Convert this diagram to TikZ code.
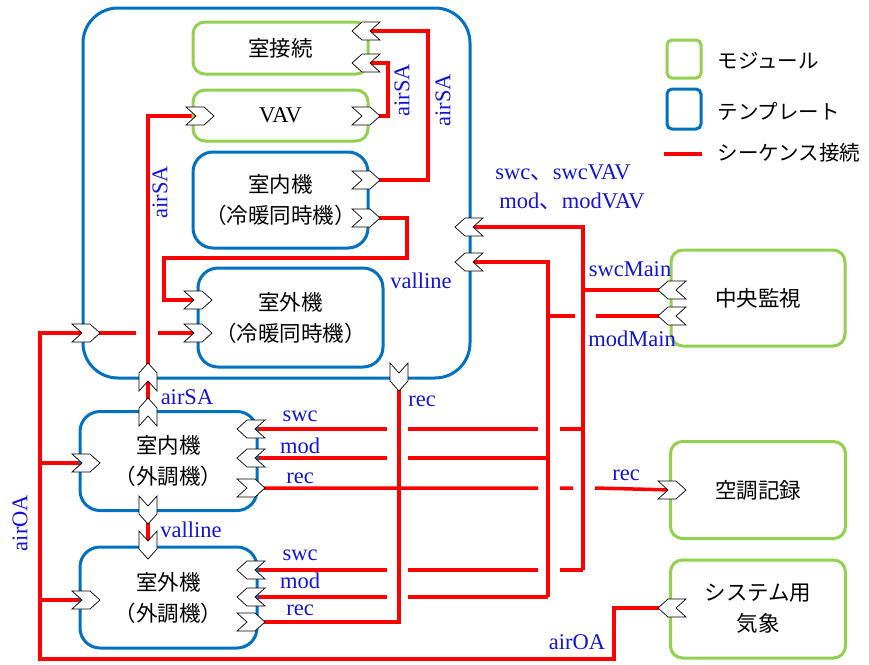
\documentclass[tikz,border=0pt]{standalone}
\usepackage{fontspec}
\setmainfont{Liberation Serif}
\newfontfamily\jp{Noto Sans CJK JP}
\usetikzlibrary{shapes.symbols}
\usetikzlibrary{backgrounds}
\definecolor{modgreen}{RGB}{146,208,80}
\definecolor{tplblue}{RGB}{0,112,192}
\definecolor{lblblue}{RGB}{20,20,215}
\tikzset{   module/.style = {rectangle, rounded corners=12pt, draw = modgreen, line width=3pt, align=center, inner sep=0pt, font=\jp\fontsize{21.5}{31}\selectfont},
            template/.style = {rectangle, rounded corners=20pt, draw = tplblue, line width=3pt, align=center, inner sep=0pt, font=\jp\fontsize{21.5}{31}\selectfont}}
\tikzset{   port/.style = {signal, draw = black, fill = white, line width=0.7pt, inner sep=0pt, signal pointer angle=84, minimum width=28pt, minimum height=18pt},
            portE/.style = {port, signal to=east, signal from=west},
            portW/.style = {port, signal to=west, signal from=east},
            portN/.style = {portE, rotate=90},
            portS/.style = {portE, rotate=-90}}
\tikzset{seq/.style = {draw = red, line width=3.5pt}}
\tikzset{lbl/.style = {text = lblblue, inner sep=0pt, font=\fontsize{22.5}{24}\selectfont}}

\begin{document}
\begin{tikzpicture}[x=1pt, y=-1pt]
\useasboundingbox (0,0) rectangle (869,664);

% templates and modules
\node[template, rounded corners=35pt, minimum width=387pt, minimum height=370pt] (tpl) at (276.5,193) {};
\node[module, minimum width=175pt, minimum height=52pt] (roomlink) at (280.5,48) {室接続};
\node[module, minimum width=175pt, minimum height=51pt, font=\fontsize{22.5}{24}\selectfont] (vav) at (280.5,115.5) {VAV};
\node[template, minimum width=175pt, minimum height=96pt] (inunit) at (280.5,200) {室内機\\（冷暖同時機）};
\node[template, minimum width=185pt, minimum height=99pt] (outunit) at (290.5,317.5) {室外機\\（冷暖同時機）};
\node[template, minimum width=177pt, minimum height=99pt] (oainunit) at (168.5,461) {室内機\\（外調機）};
\node[template, minimum width=177pt, minimum height=101pt] (oaoutunit) at (168.5,597.5) {室外機\\（外調機）};
\node[module, minimum width=174pt, minimum height=96pt] (central) at (758,298) {中央監視};
\node[module, minimum width=175pt, minimum height=97pt] (record) at (758,490) {空調記録};
\node[module, minimum width=175pt, minimum height=98pt] (weather) at (758,609) {システム用\\気象};

% legend
\node[module, rounded corners=5pt, minimum width=34pt, minimum height=38pt] (legmod) at (684,59) {};
\node[template, rounded corners=5pt, minimum width=34pt, minimum height=40pt] (legtpl) at (684,109) {};
\coordinate (legseqA) at (664,154);
\coordinate (legseqB) at (702,154);
\draw[seq] (legseqA) -- (legseqB);
\node[anchor=west, font=\jp\fontsize{20.5}{24}\selectfont] (legmodtxt) at (714,61) {モジュール};
\node[anchor=west, font=\jp\fontsize{20.5}{24}\selectfont] (legtpltxt) at (714,111) {テンプレート};
\node[anchor=west, font=\jp\fontsize{20.5}{24}\selectfont] (legseqtxt) at (714,153) {シーケンス接続};

% ports
\node[portW] (rlA) at (366,31) {};
\node[portW] (rlB) at (366,63) {};
\node[portE] (vavin) at (200,116) {};
\node[portE] (vavout) at (366,116) {};
\node[portE] (inA) at (366,180) {};
\node[portE] (inB) at (366,218) {};
\node[portE] (outA) at (198,300) {};
\node[portE] (outB) at (198,333) {};
\node[portE] (tOA) at (86,333) {};
\node[portN] (tSA) at (148,377) {};
\node[portS] (tRec) at (399,377) {};
\node[portW] (tSwc) at (469,227) {};
\node[portW] (tMod) at (469,262) {};
\node[portN] (gSA) at (148,412) {};
\node[portE] (gOA) at (86,463) {};
\node[portW] (gSwc) at (251,429) {};
\node[portW] (gMod) at (251,458) {};
\node[portE] (gRec) at (251,488) {};
\node[portS] (gVal) at (148,510) {};
\node[portS] (hVal) at (148,545) {};
\node[portE] (hOA) at (86,600) {};
\node[portW] (hSwc) at (251,570) {};
\node[portW] (hMod) at (251,597) {};
\node[portE] (hRec) at (251,622) {};
\node[portW] (cSwc) at (672,290) {};
\node[portW] (cMod) at (672,316) {};
\node[portE] (rRec) at (672,490) {};
\node[portW] (wOA) at (672,608) {};

\coordinate (swcX) at (583,0);
\coordinate (modX) at (548,0);
\coordinate (oaCorner) at (40,659);
\coordinate (valBend) at (164,258);

% sequence connections
\begin{scope}[on background layer]
\draw[seq] (inA.center) -- ++(62,0) |- (rlA.center);
\draw[seq] (vavout.center) -- ++(22,0) |- (rlB.center);
\draw[seq] (tSA.center) |- (vavin.center);
\draw[seq] (inB.center) -- ++(41,0) |- (valBend) |- (outA.center);
\draw[seq] (tOA.center) -- ([xshift=-12pt]tSA |- tOA) ([xshift=10pt]tSA |- tOA) -- (outB.center);
\draw[seq] (gSA.center) -- (tSA.center);
\draw[seq] (gVal.center) -- (hVal.center);
\draw[seq] (wOA.center) -- ++(-58,0) |- (oaCorner) |- (tOA.center);
\draw[seq] (gOA.center) -- (gOA -| oaCorner);
\draw[seq] (hOA.center) -- (hOA -| oaCorner);
\draw[seq] (tRec.center) |- (hRec.center);
\draw[seq] (tSwc.center) -| (swcX |- hSwc);
\draw[seq] (swcX |- cSwc) -- (cSwc.center);
\draw[seq] (tMod.center) -| (modX |- hMod);
\draw[seq] (modX |- cMod) -- ([xshift=-8pt]swcX |- cMod) ([xshift=13pt]swcX |- cMod) -- (cMod.center);
\draw[seq] (gSwc.center) -- ([xshift=-12pt]tRec |- gSwc) ([xshift=9pt]tRec |- gSwc) -- ([xshift=-10pt]modX |- gSwc) ([xshift=12pt]modX |- gSwc) -- (swcX |- gSwc);
\draw[seq] (gMod.center) -- ([xshift=-12pt]tRec |- gMod) ([xshift=9pt]tRec |- gMod) -- (modX |- gMod);
\draw[seq] (gRec.center) -- ([xshift=-10pt]modX |- gRec) ([xshift=12pt]modX |- gRec) -- ([xshift=-10pt]swcX |- gRec) ([xshift=12pt]swcX |- gRec) -- (rRec.center);
\draw[seq] (hSwc.center) -- ([xshift=-12pt]tRec |- hSwc) ([xshift=9pt]tRec |- hSwc) -- ([xshift=-10pt]modX |- hSwc) ([xshift=12pt]modX |- hSwc) -- (swcX |- hSwc);
\draw[seq] (hMod.center) -- ([xshift=-12pt]tRec |- hMod) ([xshift=9pt]tRec |- hMod) -- (modX |- hMod);
\end{scope}

% labels
\node[lbl, rotate=90] (lSAa) at (402,90) {airSA};
\node[lbl, rotate=90] (lSAb) at (443,100) {airSA};
\node[lbl, rotate=90] (lSAc) at (160,192) {airSA};
\node[lbl] (lVala) at (421,281) {valline};
\node[lbl] (lSAd) at (187,397) {airSA};
\node[lbl] (lReca) at (422,401) {rec};
\node[lbl] (lSwca) at (300,416) {swc};
\node[lbl] (lModa) at (300,446) {mod};
\node[lbl] (lRecb) at (300,478) {rec};
\node[lbl] (lValb) at (191,530) {valline};
\node[lbl] (lSwcb) at (300,555) {swc};
\node[lbl] (lModb) at (300,581) {mod};
\node[lbl] (lRecc) at (300,610) {rec};
\node[lbl] (lSwcVAV) at (563,173) {swc{\jp 、}swcVAV};
\node[lbl] (lModVAV) at (572,201) {mod{\jp 、}modVAV};
\node[lbl] (lSwcMain) at (630,269) {swcMain};
\node[lbl] (lModMain) at (632,339) {modMain};
\node[lbl] (lRecd) at (626,475) {rec};
\node[lbl] (lOAa) at (577,642) {airOA};
\node[lbl, rotate=90] (lOAb) at (20,523) {airOA};
\end{tikzpicture}
\end{document}
